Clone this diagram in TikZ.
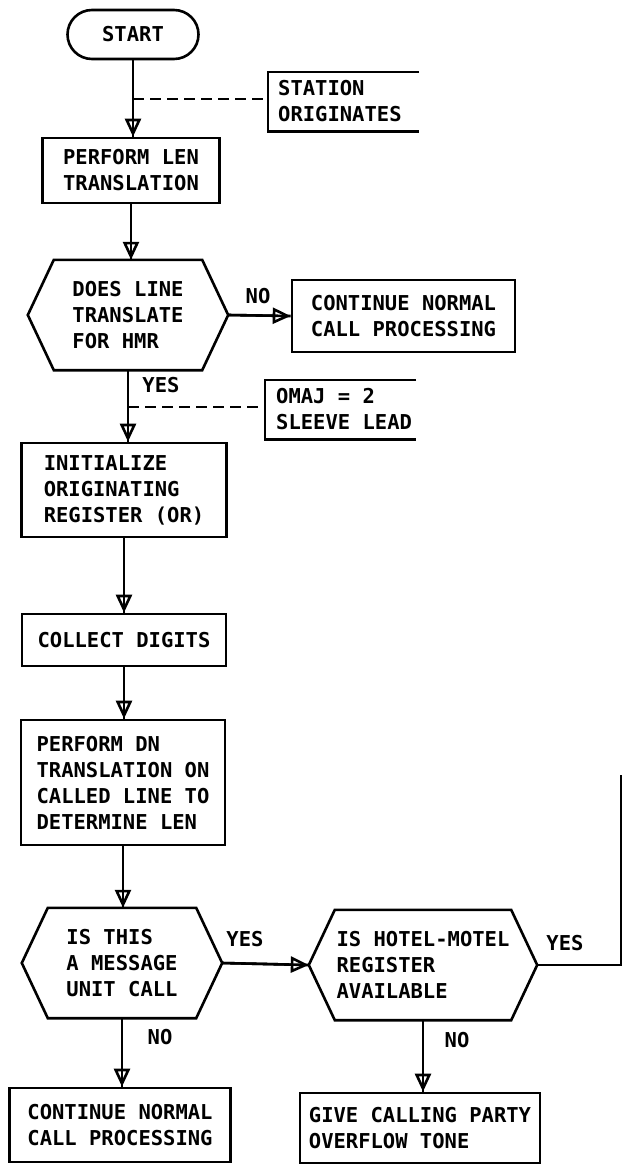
\documentclass[tikz,border=0pt]{standalone}
\usepackage{fontspec}
\setmainfont{DejaVu Sans Mono}
\usetikzlibrary{arrows.meta,shapes.misc}
\newcommand\hexoutline[2]{\draw[wire] (#1.west) -- ([xshift=#2]#1.north west) -- ([xshift=-#2]#1.north east) -- (#1.east) -- ([xshift=-#2]#1.south east) -- ([xshift=#2]#1.south west) -- cycle;}
\newcommand\flowdown[2]{\draw[wire] (#1.south) -- (#1.south |- #2.north); \draw[tip] (#1.south) -- (#1.south |- #2.north);}
\newcommand\flowright[2]{\draw[wire] (#1.east) -- (#2.west); \draw[tip] (#1.east) -- (#2.west);}
\begin{document}
\begin{tikzpicture}[x=1pt,y=-1pt,
  every node/.style={font=\bfseries\fontsize{20.5}{26}\selectfont, inner sep=0pt, align=left},
  box/.style={draw, line width=2.6pt, rectangle},
  term/.style={draw, line width=2.6pt, rounded rectangle},
  hexa/.style={rectangle, minimum height=110pt},
  wire/.style={line width=2.6pt},
  tip/.style={line width=2.6pt, -{Triangle[open,length=18pt,width=16pt]}},
  note/.style={anchor=west, inner xsep=10pt, minimum height=59pt},
  dashline/.style={line width=2.6pt, dash pattern=on 11pt off 6pt},
  lbl/.style={}
]
\useasboundingbox (0,0) rectangle (623,1165);

% nodes
\node[term, minimum width=131pt, minimum height=49pt] (start) at (133,34.5) {START};
\node[box, minimum width=177pt, minimum height=65pt] (len) at (131,170.5) {PERFORM LEN\\TRANSLATION};
\node[hexa, minimum width=200pt] (hmr) at (128,315) {DOES LINE\\TRANSLATE\\FOR HMR};
\hexoutline{hmr}{26pt}
\node[box, minimum width=223pt, minimum height=72pt] (cont1) at (403.5,316) {CONTINUE NORMAL\\CALL PROCESSING};
\node[box, minimum width=205pt, minimum height=94pt] (init) at (124,490) {INITIALIZE\\ORIGINATING\\REGISTER (OR)};
\node[box, minimum width=204pt, minimum height=52pt] (collect) at (124,640) {COLLECT DIGITS};
\node[box, minimum width=204pt, minimum height=125pt] (dn) at (123,782.5) {PERFORM DN\\TRANSLATION ON\\CALLED LINE TO\\DETERMINE LEN};
\node[hexa, minimum width=200pt] (msg) at (122,963) {IS THIS\\A MESSAGE\\UNIT CALL};
\hexoutline{msg}{26pt}
\node[hexa, minimum width=228pt] (hotel) at (423,965) {IS HOTEL-MOTEL\\REGISTER\\AVAILABLE};
\hexoutline{hotel}{26pt}
\node[box, minimum width=221pt, minimum height=74pt] (cont2) at (120,1125) {CONTINUE NORMAL\\CALL PROCESSING};
\node[box, minimum width=240pt, minimum height=70pt] (give) at (420,1128) {GIVE CALLING PARTY\\OVERFLOW TONE};

% callouts
\node[note] (stn) at (268,101.5) {STATION\\ORIGINATES};
\draw[wire] ([xshift=151pt]stn.north west) -- (stn.north west) -- (stn.south west) -- ([xshift=151pt]stn.south west);
\node[note, inner xsep=11pt] (omaj) at (265,409.5) {OMAJ = 2\\SLEEVE LEAD};
\draw[wire] ([xshift=151pt]omaj.north west) -- (omaj.north west) -- (omaj.south west) -- ([xshift=151pt]omaj.south west);

% labels
\node[lbl] (no1) at (258,296) {NO};
\node[lbl] (yes1) at (161,385) {YES};
\node[lbl] (yes2) at (245,939) {YES};
\node[lbl] (no2) at (160,1037) {NO};
\node[lbl] (yes3) at (565,943) {YES};
\node[lbl] (no3) at (457,1040) {NO};

% connectors
\flowdown{start}{len}
\flowdown{len}{hmr}
\flowright{hmr}{cont1}
\flowdown{hmr}{init}
\flowdown{init}{collect}
\flowdown{collect}{dn}
\flowdown{dn}{msg}
\flowright{msg}{hotel}
\flowdown{msg}{cont2}
\flowdown{hotel}{give}
\coordinate (off) at (621,775);
\draw[wire] (hotel.east) -| (off);

% dashed leaders
\coordinate (d1) at (start.south |- 0,99);
\draw[dashline] (d1) -- (d1 -| stn.west);
\coordinate (d2) at (hmr.south |- 0,407);
\draw[dashline] (d2) -- (d2 -| omaj.west);
\end{tikzpicture}
\end{document}
